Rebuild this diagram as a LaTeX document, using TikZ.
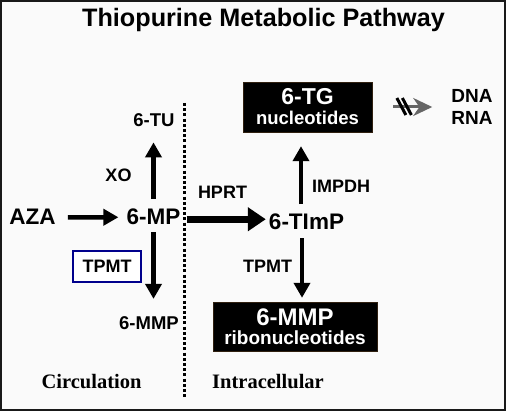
\documentclass[tikz,border=0pt]{standalone}
\usepackage{fontspec}
\setmainfont{Liberation Sans}
\newfontfamily\zonefont{Liberation Serif}
\usetikzlibrary{arrows.meta, positioning, calc}

\begin{document}
\begin{tikzpicture}[x=1pt, y=-1pt,
        every node/.style={inner sep=0pt},
        title/.style    = {font=\fontsize{25.2}{28}\selectfont\bfseries, anchor=base},
        drug/.style     = {font=\fontsize{22.5}{26}\selectfont\bfseries, anchor=base},
        metab/.style    = {font=\fontsize{18.5}{22}\selectfont\bfseries, anchor=base},
        enzyme/.style   = {font=\fontsize{18}{22}\selectfont\bfseries, anchor=base},
        enz_box/.style  = {rectangle, draw=blue!55!black, line width=1.2pt, fill=white, minimum width=68pt, minimum height=31pt, font=\fontsize{18}{22}\selectfont\bfseries},
        pool/.style     = {rectangle, fill=black, draw=black!75!brown, thin, text=white, align=center},
        target/.style   = {font=\fontsize{19}{22}\selectfont\bfseries, align=center},
        zone/.style     = {font=\zonefont\fontsize{20.5}{24}\selectfont\bfseries, anchor=base},
        flow/.style     = {line width=4.5pt, -{Triangle[length=15pt, width=16pt]}},
        mainflow/.style = {line width=6.5pt, -{Triangle[length=18pt, width=23pt]}},
        blocked/.style  = {line width=3pt, draw=black!60, -{Stealth[length=19pt, width=18pt]}},
        cutbar/.style   = {line width=3pt, black},
        barrier/.style  = {line width=3pt, dash pattern=on 3pt off 2.2pt}
    ]

    % --- FRAME ---
    \useasboundingbox (0,0) rectangle (506,411);
    \fill[black!2] (0,0) rectangle (506,411);
    \draw[line width=2pt, black!90] (1,1) rectangle (505,410);

    \node[title] (ttl) at (263.5,27) {Thiopurine Metabolic Pathway};

    % --- CIRCULATION SIDE ---
    \node[drug]    (aza)   at (32.5,225)  {AZA};
    \node[drug]    (mp)    at (153.5,225) {6-MP};
    \node[metab]   (tu)    at (154,127)   {6-TU};
    \node[metab]   (mmp)   at (149,330)   {6-MMP};
    \node[enzyme]  (xo)    at (118.5,182) {XO};
    \node[enz_box] (tpmtL) at (107,266.5) {TPMT};

    % --- INTRACELLULAR SIDE ---
    \node[drug]   (timp)  at (306.5,230) {6-TImP};
    \node[enzyme] (hprt)  at (222.5,199) {HPRT};
    \node[enzyme] (impdh) at (341,193)   {IMPDH};
    \node[enzyme] (tpmtR) at (267.5,273) {TPMT};

    \node[pool, minimum width=129pt, minimum height=50pt, font=\fontsize{18.5}{20}\selectfont\bfseries] (tgn) at (307.5,107)
        {{\fontsize{23}{23}\selectfont 6-TG}\\ nucleotides};
    \node[pool, minimum width=164pt, minimum height=49pt, font=\fontsize{19}{19}\selectfont\bfseries] (mmpr) at (295,326.5)
        {{\fontsize{24}{24}\selectfont 6-MMP}\\ ribonucleotides};

    \node[target] (nucl) at (472,107) {DNA\\RNA};

    % --- COMPARTMENT LABELS ---
    \node[zone] (circ)  at (91.5,389) {Circulation};
    \node[zone] (intra) at (268,389)  {Intracellular};
    \draw[barrier] (184,103) -- (184,399);

    % --- ARROWS ---
    \draw[flow, shorten <=12pt, shorten >=8pt] (aza.east) -- (mp.west);
    \draw[flow, shorten <=10pt, shorten >=15pt] (mp.north) -- (mp.north |- tu.south);
    \draw[flow, shorten <=7pt, shorten >=18pt] (mp.south) -- (mp.south |- mmp.north);
    \draw[mainflow, shorten <=6pt, shorten >=3pt] ([yshift=-2pt]mp.east) -- ([yshift=-2pt]mp.east -| timp.west);
    \draw[flow, shorten <=10pt, shorten >=14pt] ([xshift=-5.5pt]timp.north) -- ([xshift=-5.5pt]timp.north |- tgn.south);
    \draw[flow, shorten <=8pt, shorten >=4pt] ([xshift=-4.5pt]timp.south) -- ([xshift=-4.5pt]timp.south |- mmpr.north);

    % blocked incorporation
    \draw[blocked, shorten <=21pt, shorten >=19pt] (tgn.east) -- (nucl.west) coordinate[pos=0.35] (cut);
    \draw[cutbar] ([shift={(-3,-9)}]cut) -- ++(9,17);
    \draw[cutbar] ([shift={(2.5,-9)}]cut) -- ++(9,17);

\end{tikzpicture}
\end{document}
